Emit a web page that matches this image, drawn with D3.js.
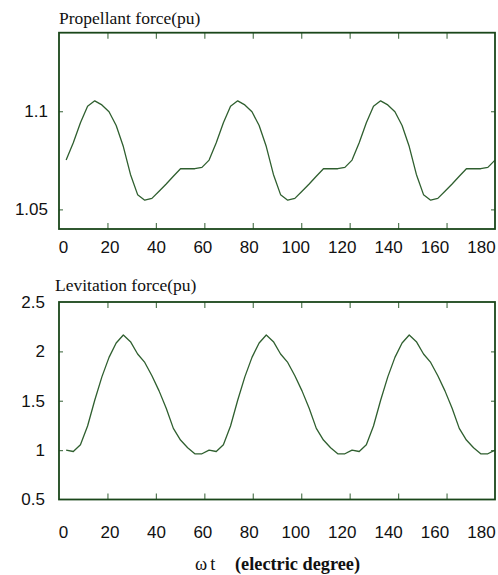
<!DOCTYPE html>
<html>
<head>
<meta charset="utf-8">
<script src="https://cdn.jsdelivr.net/npm/d3@7/dist/d3.min.js"></script>
<style>
  html, body { margin: 0; padding: 0; background: #fff; }
  svg { display: block; }
</style>
</head>
<body>
<script>
// Electric-degree ruler shown under each panel
const degreeTicks = [0, 20, 40, 60, 80, 100, 120, 140, 160, 180];

// Value-axis tick labels
const propellantTicks = [1.05, 1.1];
const levitationTicks = [0.5, 1, 1.5, 2, 2.5];

// Propellant force (pu), one sample every 3 electric degrees
const propellant = [
  1.0751, 1.0839, 1.0941, 1.1025, 1.1053, 1.1032, 1.0997, 1.0927, 1.0820, 1.0678,
  1.0575, 1.0547, 1.0556, 1.0592, 1.0629, 1.0669, 1.0707, 1.0707, 1.0707, 1.0714,
  1.0751, 1.0839, 1.0941, 1.1025, 1.1053, 1.1032, 1.0997, 1.0927, 1.0820, 1.0678,
  1.0575, 1.0547, 1.0556, 1.0592, 1.0629, 1.0669, 1.0707, 1.0707, 1.0707, 1.0714,
  1.0751, 1.0839, 1.0941, 1.1025, 1.1053, 1.1032, 1.0997, 1.0927, 1.0820, 1.0678,
  1.0575, 1.0547, 1.0556, 1.0592, 1.0629, 1.0669, 1.0707, 1.0707, 1.0707, 1.0714,
  1.0751
];

// Levitation force (pu), same sampling
const levitation = [
  1.000, 0.986, 1.054, 1.244, 1.505, 1.742, 1.939, 2.085, 2.166, 2.098,
  1.973, 1.888, 1.753, 1.600, 1.424, 1.220, 1.102, 1.024, 0.963, 0.963,
  1.000, 0.986, 1.054, 1.244, 1.505, 1.742, 1.939, 2.085, 2.166, 2.098,
  1.973, 1.888, 1.753, 1.600, 1.424, 1.220, 1.102, 1.024, 0.963, 0.963,
  1.000, 0.986, 1.054, 1.244, 1.505, 1.742, 1.939, 2.085, 2.166, 2.098,
  1.973, 1.888, 1.753, 1.600, 1.424, 1.220, 1.102, 1.024, 0.963, 0.963,
  1.000
];

const W = 498, H = 575;
const left = 59, right = 495;

const FRAME = "#1a461a";
const LINE = "#2f5f2f";
const TICK = "#557a55";
const SANS = "'Liberation Sans', Arial, sans-serif";
const SERIF = "'Liberation Serif', 'Times New Roman', serif";

const svg = d3.select("body").append("svg")
  .attr("width", W).attr("height", H);

// Sample index (1..61) and the degree ruler share the same horizontal span
const xSample = d3.scaleLinear().domain([0, propellant.length]).range([left, right]);
const xDeg = d3.scaleLinear().domain([0, 180]).range([left, right]);
// Degree labels sit slightly inside the frame ends
const xLabel = d3.scaleLinear().domain([0, 180]).range([63, 481]);

const panels = [
  { title: "Propellant force(pu)", titleX: 59, titleY: 24,
    values: propellant, domain: [1.04, 1.14], ticks: propellantTicks,
    top: 32.7, bottom: 229, labelPad: 11, xLabelY: 253 },
  { title: "Levitation force(pu)", titleX: 55, titleY: 290.5,
    values: levitation, domain: [0.5, 2.5], ticks: levitationTicks,
    top: 302, bottom: 499.5, labelPad: 14, xLabelY: 538 }
];

panels.forEach(p => {
  const y = d3.scaleLinear().domain(p.domain).range([p.bottom, p.top]);
  const g = svg.append("g");

  // inward tick marks on all four sides
  const xInner = degreeTicks.filter(d => d > 0 && d < 180);
  const yInner = p.ticks.filter(v => v > p.domain[0] && v < p.domain[1]);

  const styleTicks = a => {
    a.select(".domain").remove();
    a.selectAll("line").attr("stroke", TICK).attr("stroke-width", 1.2);
  };

  g.append("g")
    .attr("transform", `translate(0,${p.bottom})`)
    .call(d3.axisTop(xDeg).tickValues(xInner).tickSize(6).tickFormat(""))
    .call(styleTicks);

  g.append("g")
    .attr("transform", `translate(0,${p.top})`)
    .call(d3.axisBottom(xDeg).tickValues(xInner).tickSize(6).tickFormat(""))
    .call(styleTicks);

  g.append("g")
    .attr("transform", `translate(${left},0)`)
    .call(d3.axisRight(y).tickValues(yInner).tickSize(4).tickFormat(""))
    .call(styleTicks);

  g.append("g")
    .attr("transform", `translate(${right},0)`)
    .call(d3.axisLeft(y).tickValues(yInner).tickSize(4).tickFormat(""))
    .call(styleTicks);

  // value labels on the left
  g.append("g")
    .attr("transform", `translate(${left},0)`)
    .call(d3.axisLeft(y).tickValues(p.ticks).tickSize(0).tickPadding(p.labelPad).tickFormat(d => String(d)))
    .call(a => a.select(".domain").remove())
    .call(a => a.selectAll("text")
      .attr("font-family", SANS).attr("font-size", 17).attr("fill", "#111"));

  // degree labels below the frame
  g.append("g")
    .attr("transform", `translate(0,${p.xLabelY})`)
    .call(d3.axisBottom(xLabel).tickValues(degreeTicks).tickSize(0).tickPadding(0))
    .call(a => a.select(".domain").remove())
    .call(a => a.selectAll("text")
      .attr("y", 0).attr("dy", 0)
      .attr("font-family", SANS).attr("font-size", 17).attr("fill", "#111"));

  // waveform
  const line = d3.line()
    .x((d, i) => xSample(i + 1))
    .y(d => y(d));
  g.append("path")
    .datum(p.values)
    .attr("fill", "none")
    .attr("stroke", LINE)
    .attr("stroke-width", 1.3)
    .attr("stroke-linejoin", "round")
    .attr("d", line);

  // plot frame
  g.append("rect")
    .attr("x", left).attr("y", p.top)
    .attr("width", right - left).attr("height", p.bottom - p.top)
    .attr("fill", "none").attr("stroke", FRAME).attr("stroke-width", 1.8);

  // panel title
  svg.append("text")
    .attr("x", p.titleX).attr("y", p.titleY)
    .attr("font-family", SERIF).attr("font-size", 17.5).attr("fill", "#111")
    .text(p.title);
});

// horizontal axis title
const xTitle = svg.append("g").attr("font-family", SERIF).attr("fill", "#111");
xTitle.append("text")
  .attr("x", 195).attr("y", 570).attr("font-size", 18.5)
  .text("ω")
  .append("tspan").attr("dx", 3).text("t");
xTitle.append("text")
  .attr("x", 235).attr("y", 570).attr("font-size", 18.3).attr("font-weight", "bold")
  .text("(electric degree)");
</script>
</body>
</html>
